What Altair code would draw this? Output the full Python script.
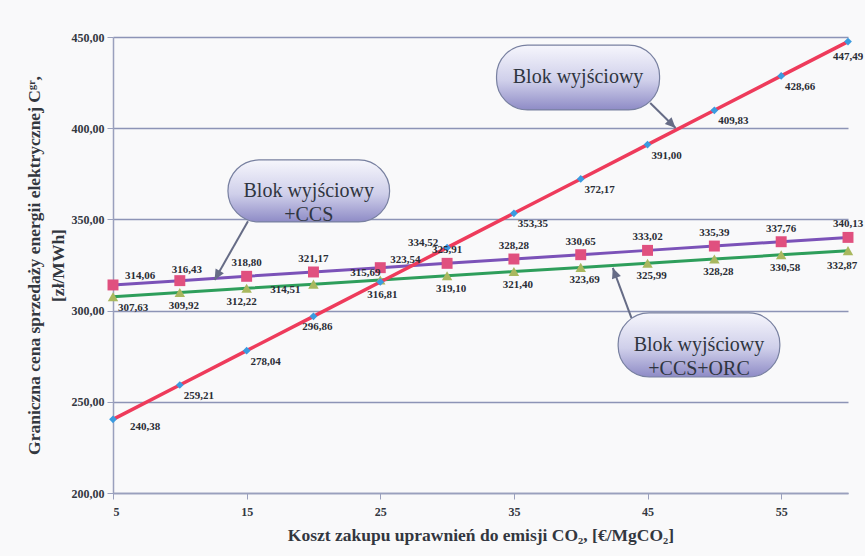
import math
import altair as alt
import pandas as pd

# ---------------- data ----------------
emission_cost = [5, 10, 15, 20, 25, 30, 35, 40, 45, 50, 55, 60]
blok = [240.38, 259.21, 278.04, 296.86, 315.69, 334.52, 353.35, 372.17, 391.00, 409.83, 428.66, 447.49]
blok_ccs = [314.06, 316.43, 318.80, 321.17, 323.54, 325.91, 328.28, 330.65, 333.02, 335.39, 337.76, 340.13]
blok_ccs_orc = [307.63, 309.92, 312.22, 314.51, 316.81, 319.10, 321.40, 323.69, 325.99, 328.28, 330.58, 332.87]
series_names = ["Blok wyjściowy", "Blok wyjściowy+CCS", "Blok wyjściowy+CCS+ORC"]
x_ticks = [5, 15, 25, 35, 45, 55]
y_ticks = [200, 250, 300, 350, 400, 450]

callout_texts = ["Blok wyjściowy", "Blok wyjściowy\n+CCS", "Blok wyjściowy\n+CCS+ORC"]

# ---------------- layout ----------------
W, H = 735, 456
X_DOM = [5, 60]
Y_DOM = [200, 450]
PPX = W / (X_DOM[1] - X_DOM[0])
PPY = H / (Y_DOM[1] - Y_DOM[0])

SERIF = "'Liberation Serif', 'Times New Roman', 'DejaVu Serif', serif"
TXT = "#33373f"

rows = []
for name, vals in zip(series_names, [blok, blok_ccs, blok_ccs_orc]):
    for xv, yv in zip(emission_cost, vals):
        rows.append({"series": name, "x": xv, "y": yv,
                     "label": f"{yv:.2f}".replace(".", ",")})
df = pd.DataFrame(rows)

xs = alt.Scale(domain=X_DOM, nice=False, zero=False)
ys = alt.Scale(domain=Y_DOM, nice=False, zero=False)

base = alt.Chart(df)

x_axis = alt.Axis(
    values=x_ticks, grid=False, title="Koszt zakupu uprawnień do emisji CO₂, [€/MgCO₂]",
    labelFont=SERIF, labelFontWeight="bold", labelFontSize=12, labelColor=TXT,
    titleFont=SERIF, titleFontWeight="bold", titleFontSize=17.5, titleColor=TXT,
    domainColor="#9aa0bd", domainWidth=1.5, tickColor="#9aa0bd", tickSize=6,
    labelPadding=7, titlePadding=9,
)
y_axis = alt.Axis(
    values=y_ticks, grid=True, gridColor="#8d94b6", gridWidth=1.3,
    title=["Graniczna cena sprzedaży energii elektrycznej Cᵍʳ,", "[zł/MWh]"],
    labelExpr="replace(format(datum.value, '.2f'), '.', ',')",
    labelFont=SERIF, labelFontWeight="bold", labelFontSize=12, labelColor=TXT,
    titleFont=SERIF, titleFontWeight="bold", titleFontSize=17.5, titleColor=TXT,
    titleLineHeight=24, domainColor="#9aa0bd", domainWidth=1.5,
    tickColor="#9aa0bd", tickSize=6, labelPadding=3, titlePadding=4,
)


def series_layers(name, line_color, line_width, shape, marker_color, marker_size):
    b = base.transform_filter(alt.datum.series == name)
    line = b.mark_line(color=line_color, strokeWidth=line_width).encode(
        x=alt.X("x:Q", scale=xs, axis=x_axis),
        y=alt.Y("y:Q", scale=ys, axis=y_axis),
    )
    pts = b.mark_point(shape=shape, filled=True, opacity=1, color=marker_color,
                       size=marker_size).encode(
        x=alt.X("x:Q", scale=xs), y=alt.Y("y:Q", scale=ys))
    return [line, pts]


def label_layers(name, dflt, overrides):
    out = []
    ox = list(overrides.keys())
    b = base.transform_filter(alt.datum.series == name)
    enc = dict(x=alt.X("x:Q", scale=xs), y=alt.Y("y:Q", scale=ys), text="label:N")
    style = dict(font=SERIF, fontWeight="bold", fontSize=11, color="#2a2d35",
                 align="center", baseline="middle")
    out.append(b.transform_filter(~alt.FieldOneOfPredicate(field="x", oneOf=ox))
               .mark_text(dx=dflt[0], dy=dflt[1], **style).encode(**enc))
    for xv, (ddx, ddy) in overrides.items():
        out.append(b.transform_filter(alt.datum.x == xv)
                   .mark_text(dx=ddx, dy=ddy, **style).encode(**enc))
    return out


layers = []
layers += series_layers(series_names[2], "#2e9e5b", 3, "triangle-up", "#a9b85e", 110)
layers += series_layers(series_names[1], "#7b52b8", 3, "square", "#e0507f", 120)
layers += series_layers(series_names[0], "#ee3b5b", 3.5, "diamond", "#3b9be0", 60)

layers += label_layers(series_names[0], (19, 11),
                       {5: (32, 8), 20: (4, 11), 25: (-15, -9), 30: (-24, -5), 60: (0, 15)})
layers += label_layers(series_names[1], (0, -13),
                       {5: (27, -9), 10: (7, -11), 25: (25, -8)})
layers += label_layers(series_names[2], (4, 13),
                       {5: (20, 11), 15: (-5, 14), 20: (-28, 6), 25: (2, 15), 60: (-6, 15)})

# ---------------- callouts ----------------
boxes = pd.DataFrame({
    "bx1": [33.7, 13.6, 42.8], "bx2": [45.9, 25.7, 54.9],
    "by1": [445.6, 382.6, 298.7], "by2": [410.0, 348.6, 263.6],
    "text": callout_texts,
})
boxes["cx"] = (boxes["bx1"] + boxes["bx2"]) / 2
boxes["cy"] = (boxes["by1"] + boxes["by2"]) / 2

arrows = pd.DataFrame({
    "ax0": [45.2, 15.1, 43.8], "ay0": [413.8, 349.0, 295.9],
    "axt": [47.1, 12.6, 42.4], "ayt": [400.1, 316.8, 323.4],
})
arrows["angle"] = [
    math.degrees(math.atan2((xt - x0) * PPX, (yt - y0) * PPY)) % 360
    for x0, y0, xt, yt in zip(arrows["ax0"], arrows["ay0"], arrows["axt"], arrows["ayt"])
]

arrow_color = "#666c86"
rule = alt.Chart(arrows).mark_rule(color=arrow_color, strokeWidth=2).encode(
    x=alt.X("ax0:Q", scale=xs), y=alt.Y("ay0:Q", scale=ys),
    x2="axt:Q", y2="ayt:Q")
head = alt.Chart(arrows).mark_point(
    shape="M0,0L-0.5,1.1L0.5,1.1Z", filled=True, opacity=1, color=arrow_color, size=360
).encode(x=alt.X("axt:Q", scale=xs), y=alt.Y("ayt:Q", scale=ys),
         angle=alt.Angle("angle:Q", scale=None))

grad = alt.Gradient(
    gradient="linear", x1=0, x2=0, y1=0, y2=1,
    stops=[alt.GradientStop(color="#f6f6fc", offset=0),
           alt.GradientStop(color="#cfcfea", offset=0.55),
           alt.GradientStop(color="#8e8bc6", offset=1)])
box = alt.Chart(boxes).mark_rect(
    cornerRadius=31, fill=grad, stroke="#7880a0", strokeWidth=1.2
).encode(x=alt.X("bx1:Q", scale=xs), x2="bx2:Q",
         y=alt.Y("by1:Q", scale=ys), y2="by2:Q")
box_text = alt.Chart(boxes).mark_text(
    font=SERIF, fontSize=20, color="#2f3540", lineBreak="\n", lineHeight=24,
    align="center", baseline="middle"
).encode(x=alt.X("cx:Q", scale=xs), y=alt.Y("cy:Q", scale=ys), text="text:N")

layers += [rule, head, box, box_text]

chart = alt.layer(*layers).properties(
    width=W, height=H,
    autosize=alt.AutoSizeParams(type="none"),
    padding={"left": 113, "top": 37, "right": 17, "bottom": 63},
    background="#f9f9fa",
).configure_view(stroke=None)

chart.save("out.html", embed_options={"renderer": "svg", "actions": False})
